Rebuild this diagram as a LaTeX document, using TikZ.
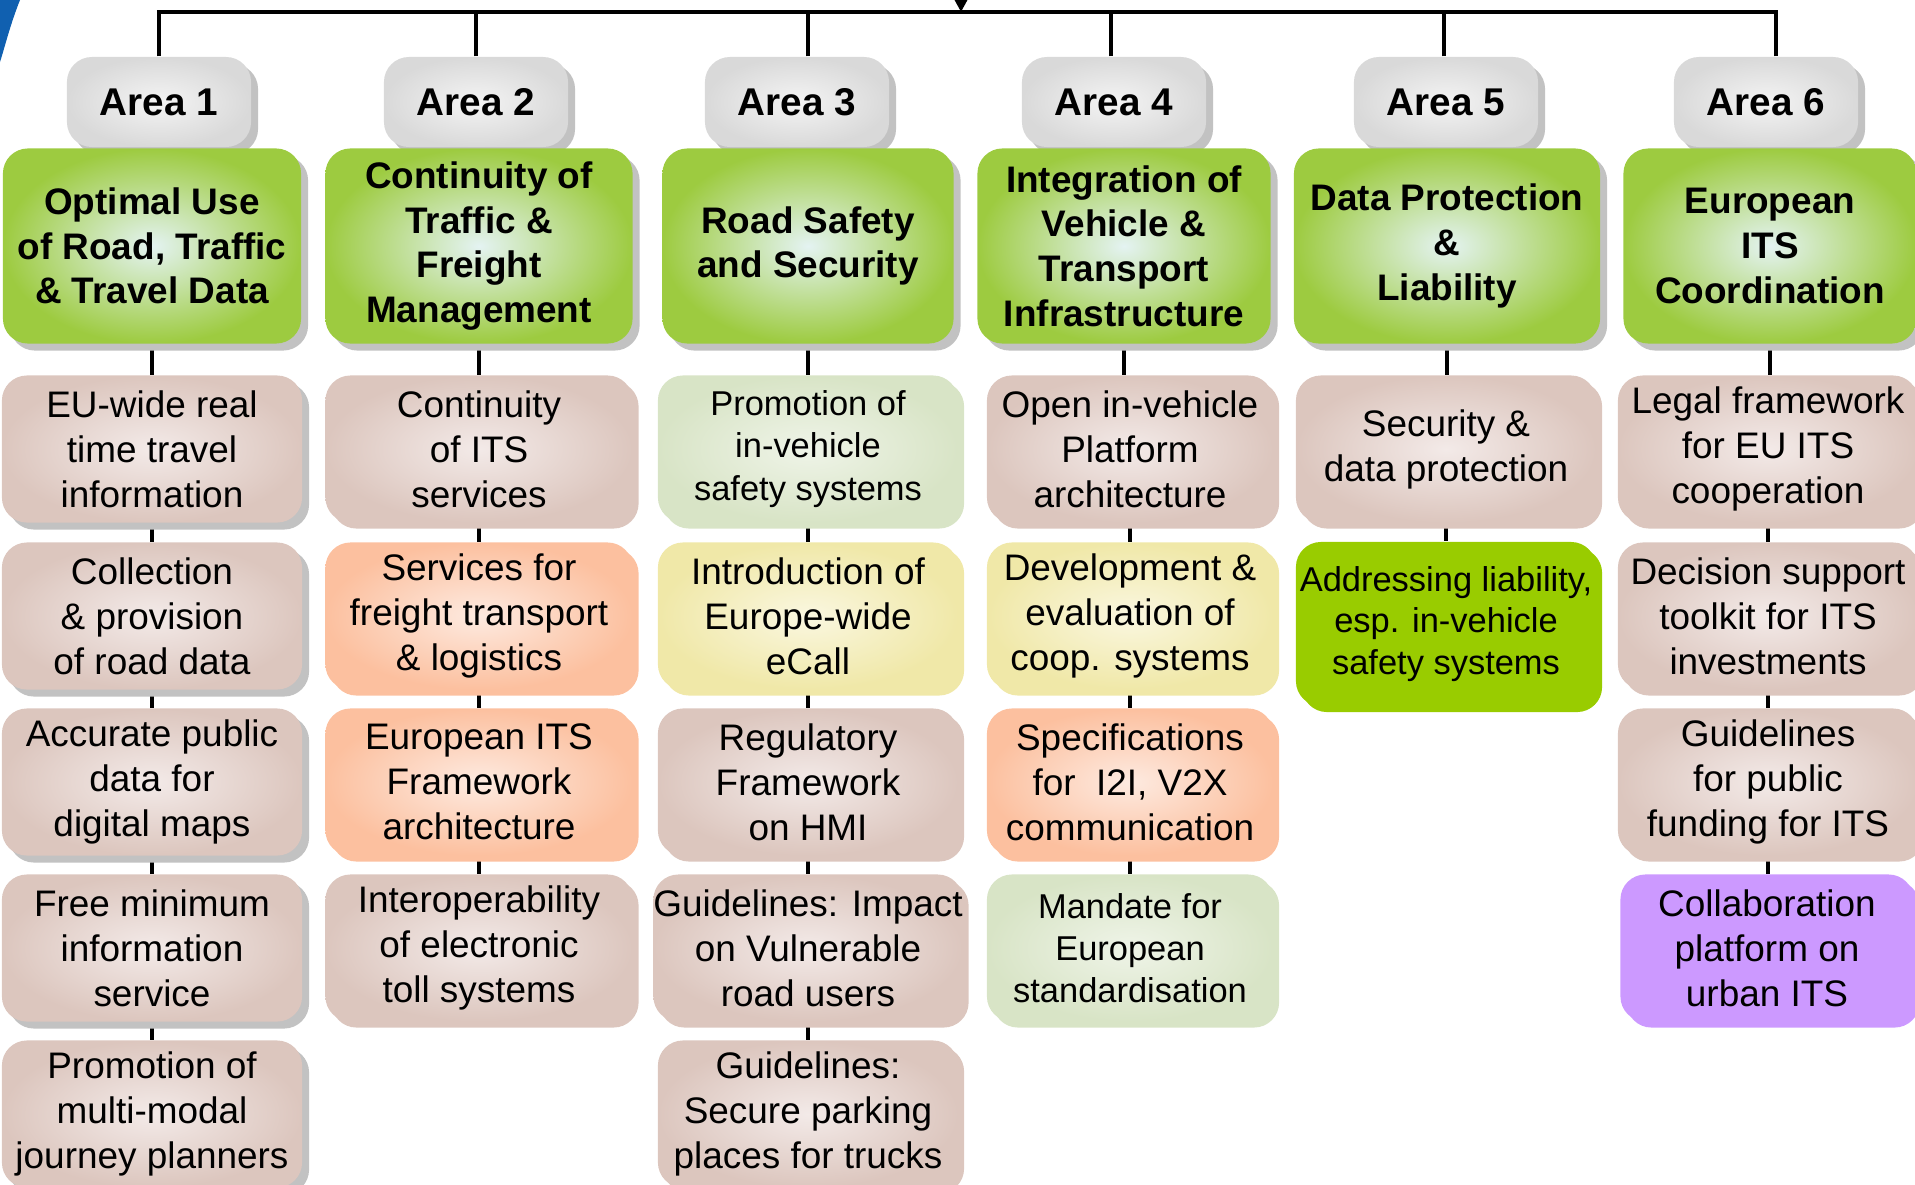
\documentclass[tikz,border=0pt]{standalone}
\usepackage{fontspec}
\setmainfont{Liberation Sans}
\usetikzlibrary{shadows,arrows.meta,backgrounds}
\definecolor{hdgreen}{HTML}{9DCB40}
\definecolor{hdpale}{HTML}{E4F3F2}
\definecolor{arin}{HTML}{F4F4F4}
\definecolor{arout}{HTML}{D9D9D9}
\definecolor{roseout}{HTML}{DCC6BE}
\definecolor{rosein}{HTML}{F3EAE8}
\definecolor{peachout}{HTML}{FCC09F}
\definecolor{peachin}{HTML}{FDEAE0}
\definecolor{sageout}{HTML}{D8E4C6}
\definecolor{sagein}{HTML}{EFF4E8}
\definecolor{lemonout}{HTML}{F0E8A8}
\definecolor{lemonin}{HTML}{FAF7E0}
\definecolor{brgreen}{HTML}{99CC00}
\definecolor{lilac}{HTML}{CC99FF}
\definecolor{shd}{HTML}{C2C2C2}
\definecolor{arcblue}{HTML}{1060B0}

\begin{document}
\begin{tikzpicture}[x=0.01cm,y=-0.01cm,
	conn/.style={line width=1.2pt},
	box/.style={rounded corners=0.25cm,inner sep=0pt,align=center,minimum width=3cm,minimum height=1.47cm,font=\fontsize{10.5}{12.8}\selectfont},
	gshadow/.style={drop shadow={shadow xshift=0.07cm,shadow yshift=-0.07cm,fill=shd,opacity=1}},
	oshadow/.style={drop shadow={shadow xshift=0.06cm,shadow yshift=-0.06cm,fill=#1,opacity=1}},
	area/.style={box,gshadow,inner color=arin,outer color=arout,minimum width=1.84cm,minimum height=0.9cm,font=\fontsize{11}{13}\selectfont\bfseries},
	head/.style={box,gshadow,inner color=hdpale,outer color=hdgreen,minimum height=1.95cm,font=\fontsize{10.5}{12.7}\selectfont\bfseries},
	rose/.style={box,oshadow=roseout,inner color=rosein,outer color=roseout},
	roseg/.style={box,gshadow,inner color=rosein,outer color=roseout},
	peach/.style={box,oshadow=peachout,inner color=peachin,outer color=peachout},
	sage/.style={box,oshadow=sageout,inner color=sagein,outer color=sageout,font=\fontsize{9.8}{12}\selectfont},
	lemon/.style={box,oshadow=lemonout,inner color=lemonin,outer color=lemonout},
]
	\useasboundingbox (0,0) rectangle (1915,1184);
	\clip (0,0) rectangle (1915,1184);
	\fill[arcblue] (0,0) -- (20,0) .. controls (10,25) and (4,50) .. (0,62) -- cycle;

	\coordinate (bus) at (0,12);
	\coordinate (src) at (961,-30);

	\node[area] (a1) at (159,102) {Area 1};
	\node[area] (a2) at (476,102) {Area 2};
	\node[area] (a3) at (797,102) {Area 3};
	\node[area] (a4) at (1114,102) {Area 4};
	\node[area] (a5) at (1446,102) {Area 5};
	\node[area] (a6) at (1766,102) {Area 6};

	\node[head,minimum width=2.98cm] (h1) at (152,246) {Optimal Use\\of Road, Traffic\\\& Travel Data};
	\node[head,minimum width=3.07cm] (h2) at (479,246) {Continuity of\\Traffic \&\\Freight\\Management};
	\node[head,minimum width=2.91cm] (h3) at (808,246) {Road Safety\\and Security};
	\node[head,minimum width=2.93cm] (h4) at (1124,246) {Integration of\\Vehicle \&\\Transport\\Infrastructure};
	\node[head,minimum width=3.06cm] (h5) at (1447,246) {Data Protection\\\&\\Liability};
	\node[head,minimum width=2.93cm] (h6) at (1770,246) {European\\ITS\\Coordination};

	\node[roseg] (s11) at (152,449) {EU-wide real\\time travel\\information};
	\node[roseg] (s12) at (152,616) {Collection\\\& provision\\of road data};
	\node[roseg] (s13) at (152,782) {Accurate public\\data for\\digital maps};
	\node[roseg] (s14) at (152,948) {Free minimum\\information\\service};
	\node[roseg] (s15) at (152,1114) {Promotion of\\multi-modal\\journey planners};

	\node[rose,minimum width=3.07cm] (s21) at (479,449) {Continuity\\of ITS\\services};
	\node[peach,minimum width=3.07cm] (s22) at (479,616) {Services for\\freight transport\\\& logistics};
	\node[peach,minimum width=3.07cm] (s23) at (479,782) {European ITS\\Framework\\architecture};
	\node[rose,minimum width=3.07cm] (s24) at (479,948) {Interoperability\\of electronic\\toll systems};

	\node[sage] (s31) at (808,449) {Promotion of\\in-vehicle\\safety systems};
	\node[lemon] (s32) at (808,616) {Introduction of\\Europe-wide\\eCall};
	\node[rose] (s33) at (808,782) {Regulatory\\Framework\\on HMI};
	\node[rose] (s34) at (808,948) {Guidelines: Impact\\on Vulnerable\\road users};
	\node[rose] (s35) at (808,1114) {Guidelines:\\Secure parking\\places for trucks};

	\node[rose,minimum width=2.86cm] (s41) at (1130,449) {Open in-vehicle\\Platform\\architecture};
	\node[lemon,minimum width=2.86cm] (s42) at (1130,616) {Development \&\\evaluation of\\coop. systems};
	\node[peach,minimum width=2.86cm] (s43) at (1130,782) {Specifications\\for\ \ I2I, V2X\\communication};
	\node[sage,minimum width=2.86cm] (s44) at (1130,948) {Mandate for\\European\\standardisation};

	\node[rose] (s51) at (1446,449) {Security \&\\data protection};
	\node[box,oshadow=brgreen,fill=brgreen,minimum height=1.64cm,font=\fontsize{9.8}{11.8}\selectfont] (s52) at (1446,624) {Addressing liability,\\esp. in-vehicle\\safety systems};

	\node[rose] (s61) at (1768,449) {Legal framework\\for EU ITS\\cooperation};
	\node[rose] (s62) at (1768,616) {Decision support\\toolkit for ITS\\investments};
	\node[rose] (s63) at (1768,782) {Guidelines\\for public\\funding for ITS};
	\node[box,oshadow=lilac,fill=lilac,minimum width=2.93cm] (s64) at (1767,948) {Collaboration\\platform on\\urban ITS};

	\begin{scope}[on background layer]
	\foreach \i in {1,...,6}
		\draw[gray!50,line width=0.8pt] (a\i.south) -- (a\i.south |- h\i.north);
	\foreach \u/\v in {h1/s11,s11/s12,s12/s13,s13/s14,s14/s15,h2/s21,s21/s22,s22/s23,s23/s24,h3/s31,s31/s32,s32/s33,s33/s34,s34/s35,h4/s41,s41/s42,s42/s43,s43/s44,h5/s51,s51/s52,h6/s61,s61/s62,s62/s63,s63/s64}
		\draw[conn] (\u.south) -- (\u.south |- \v.north);
	\end{scope}

	% drops from the bus, slightly off centre for areas 3 and 6
	\foreach \i/\s in {1/0,2/0,3/0.11,4/-0.03,5/-0.02,6/0.1}
		\draw[conn] ([xshift=\s cm]a\i.north) -- ([xshift=\s cm]a\i.north |- bus);
	\draw[conn] ([xshift=-0.6pt]a1.north |- bus) -- ([xshift=0.1cm,xshift=0.6pt]a6.north |- bus);
	\draw[conn,-{Triangle[width=0.13cm,length=0.13cm]}] (src) -- (src |- bus);
\end{tikzpicture}
\end{document}
